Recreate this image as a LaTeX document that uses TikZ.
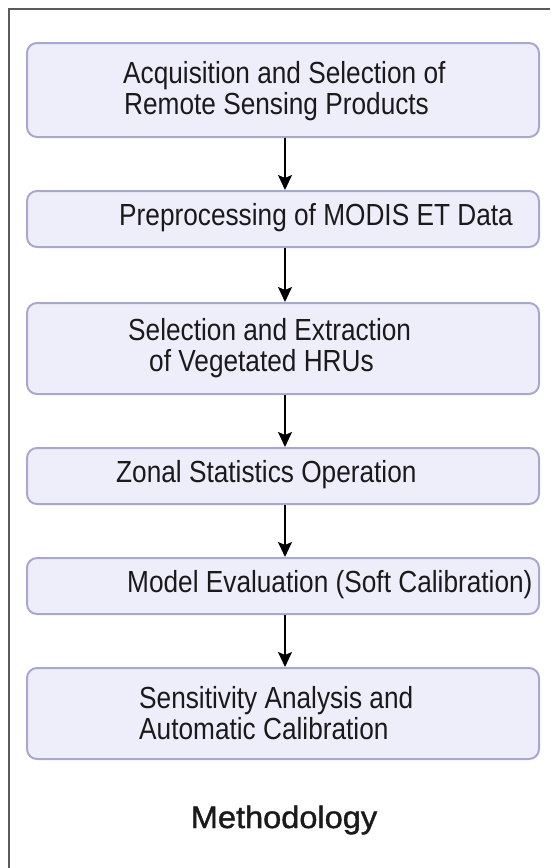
\documentclass[tikz,border=0pt]{standalone}
\usepackage{fontspec}
\setmainfont{Liberation Sans}
\newfontfamily\boxfont[FakeStretch=0.86]{Liberation Sans}
\newfontfamily\titlefont[FakeStretch=1.05,FakeBold=1.3]{Liberation Sans}
\usetikzlibrary{arrows.meta}
\definecolor{boxfill}{HTML}{EEEEFB}
\definecolor{boxline}{HTML}{A8A8CE}
\definecolor{frameline}{HTML}{5A5A5A}
\definecolor{txt}{HTML}{1A1A1A}
\tikzset{
  stepbox/.style={draw=boxline, fill=boxfill, line width=2pt, rounded corners=10pt, minimum width=512pt, inner sep=0pt, anchor=north west},
  steptext/.style={anchor=west, align=left, inner sep=0pt, text=txt, font=\boxfont\fontsize{30.5}{31}\selectfont},
  flow/.style={draw=black, line width=1.8pt, -{Stealth[length=15pt,width=14pt,inset=3pt]}},
}
\begin{document}
\begin{tikzpicture}[x=1pt,y=-1pt]
\useasboundingbox (0,0) rectangle (550,868);
\fill[white] (0,0) rectangle (550,868);
% frame
\draw[frameline, line width=1.4pt] (9,868) -- (9,9) -- (550,9);
% boxes
\node[stepbox, minimum height=94pt] (b1) at (26,42) {};
\node[stepbox, minimum height=56pt] (b2) at (26,190) {};
\node[stepbox, minimum height=91pt] (b3) at (26,302) {};
\node[stepbox, minimum height=56pt] (b4) at (26,447) {};
\node[stepbox, minimum height=56pt] (b5) at (26,557) {};
\node[stepbox, minimum height=91pt] (b6) at (26,667) {};
% texts
\node[steptext] (t1) at (123,91) {Acquisition and Selection of\\\hspace*{1pt}Remote Sensing Products};
\node[steptext] (t2) at (119,218) {Preprocessing of MODIS ET Data};
\node[steptext] (t3) at (128,348) {Selection and Extraction\\\hspace*{21pt}of Vegetated HRUs};
\node[steptext] (t4) at (116,475) {Zonal Statistics Operation};
\node[steptext] (t5) at (127,585) {Model Evaluation (Soft Calibration)};
\node[steptext] (t6) at (139,713) {Sensitivity Analysis and\\Automatic Calibration};
\node[text=txt, font=\titlefont\fontsize{31}{34}\selectfont, inner sep=0pt] (title) at (284,820) {Methodology};
% arrows
\draw[flow] ([xshift=2pt]b1.south) -- ([xshift=2pt]b2.north);
\draw[flow] ([xshift=2pt]b2.south) -- ([xshift=2pt]b3.north);
\draw[flow] ([xshift=2pt]b3.south) -- ([xshift=2pt]b4.north);
\draw[flow] ([xshift=2pt]b4.south) -- ([xshift=2pt]b5.north);
\draw[flow] ([xshift=2pt]b5.south) -- ([xshift=2pt]b6.north);
\end{tikzpicture}
\end{document}
